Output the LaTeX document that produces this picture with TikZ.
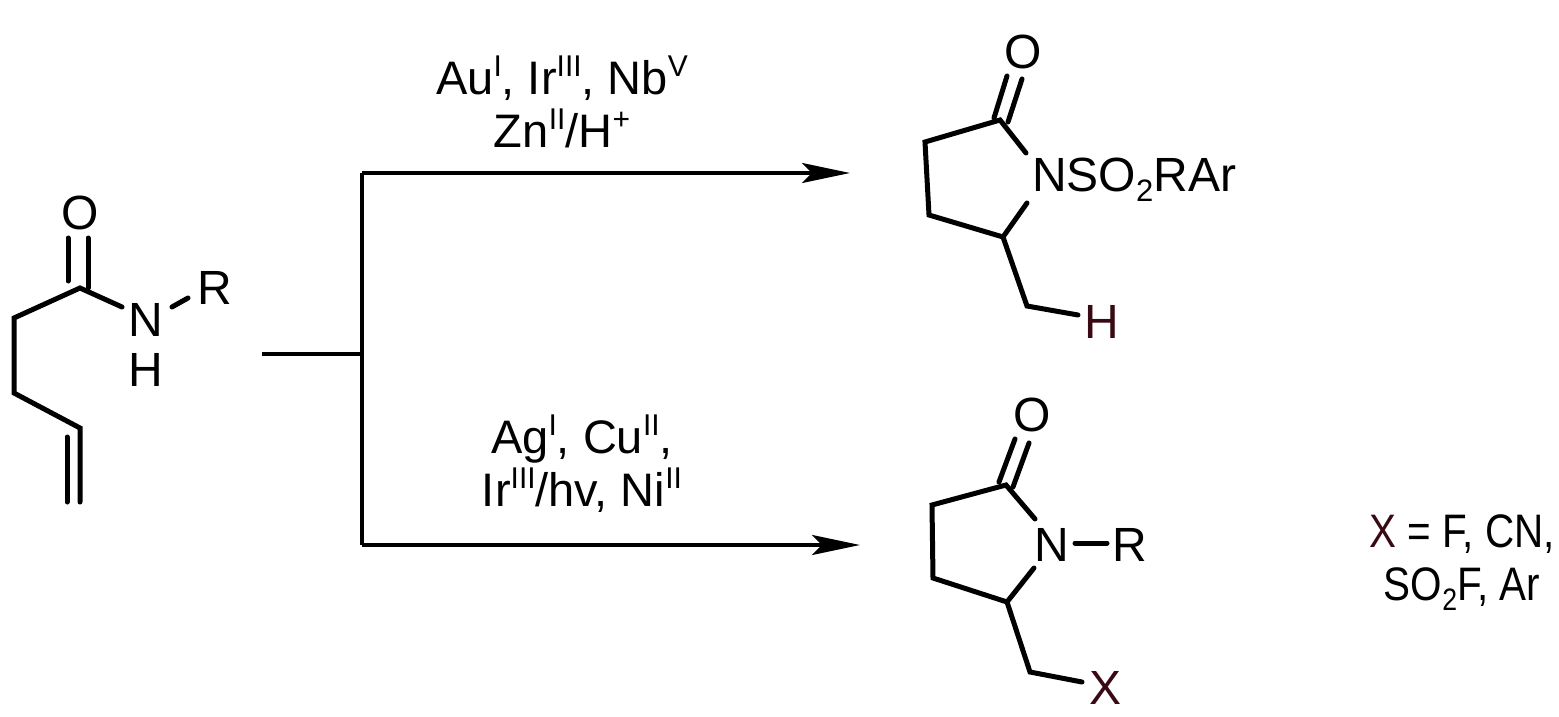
\documentclass[tikz,border=0pt]{standalone}
\usepackage{fontspec}
\setmainfont{Liberation Sans}
\usetikzlibrary{arrows.meta}
\definecolor{maroon}{HTML}{3A0A14}
\newcommand\mysup[1]{\raisebox{18pt}{\fontsize{30}{30}\selectfont #1}}
\newcommand\mysub[1]{\raisebox{-10pt}{\fontsize{31}{31}\selectfont #1}}
\begin{document}
\begin{tikzpicture}[x=1pt,y=-1pt,
  bond/.style={line width=5pt,line cap=round},
  atom/.style={inner sep=0pt,font=\fontsize{48}{50}\selectfont},
  txt/.style={inner sep=0pt,font=\fontsize{47}{53}\selectfont,align=center},
  rxn/.style={line width=4pt,-{Stealth[length=48pt,width=20pt,inset=10pt]}}]
\useasboundingbox (0,0) rectangle (1559,717);
% starting material
\node[atom] (O1) at (80,213) {O};
\node[atom] (N1) at (146,320) {N};
\node[atom] (H1) at (146,370) {H};
\node[atom] (R1) at (215,288) {R};
\coordinate (c1) at (80,288);
\coordinate (c2) at (14,318);
\coordinate (c3) at (14,393);
\coordinate (c4) at (80,428);
\coordinate (c5) at (80,502);
\draw[bond] (68,238) -- (68,281);
\draw[bond] (88,238) -- (88,288);
\draw[bond] (122,307) -- (c1) -- (c2) -- (c3) -- (c4) -- (c5);
\draw[bond] (67,437) -- (67,502);
\draw[bond] (172,307) -- (188,298);
% scheme lines
\coordinate (s0) at (262,354);
\coordinate (s1) at (362,354);
\coordinate (t0) at (362,173);
\coordinate (b0) at (362,545);
\coordinate (t1) at (850,173);
\coordinate (b1) at (860,545);
\draw[line width=4pt] (s0) -- (s1);
\draw[line width=4pt] (t0) -- (b0);
\draw[rxn] (t0) -- (t1);
\draw[rxn] (b0) -- (b1);
\node[txt] (r1) at (562,102) {Au\mysup{I}, Ir\mysup{III}, Nb\mysup{V}\\Zn\mysup{II}/H\mysup{+}};
\node[txt] (r2) at (582,464) {Ag\mysup{I}, Cu\mysup{II},\\Ir\mysup{III}/hv, Ni\mysup{II}};
% product 1
\node[atom] (O2) at (1023,52) {O};
\node[atom,anchor=west] (N2) at (1032,180) {NSO\mysub{2}RAr};
\node[atom,text=maroon] (H2) at (1102,322) {H};
\coordinate (p1) at (1000,120);
\coordinate (p2) at (925,142);
\coordinate (p3) at (929,215);
\coordinate (p4) at (1003,237);
\coordinate (p5) at (1027,306);
\draw[bond] (994,118) -- (1007,76);
\draw[bond] (1008,122) -- (1022,79);
\draw[bond] (1026,153) -- (p1) -- (p2) -- (p3) -- (p4) -- (1027,203);
\draw[bond] (p4) -- (p5) -- (1078,315);
% product 2
\node[atom] (O3) at (1032,415) {O};
\node[atom] (N3) at (1052,545) {N};
\node[atom] (R3) at (1130,545) {R};
\node[atom,text=maroon] (X3) at (1105,688) {X};
\coordinate (q1) at (1006,485);
\coordinate (q2) at (932,505);
\coordinate (q3) at (933,578);
\coordinate (q4) at (1007,602);
\coordinate (q5) at (1030,672);
\draw[bond] (999,482) -- (1015,439);
\draw[bond] (1013,487) -- (1029,443);
\draw[bond] (1035,519) -- (q1) -- (q2) -- (q3) -- (q4) -- (1034,568);
\draw[bond] (q4) -- (q5) -- (1082,682);
\draw[bond] (1075,543) -- (1107,543);
\node[txt] (leg) at (1462,563) {\scalebox{0.86}[1]{\textcolor{maroon}{X} = F, CN,}\\\scalebox{0.86}[1]{SO\mysub{2}F, Ar}};
\end{tikzpicture}
\end{document}
